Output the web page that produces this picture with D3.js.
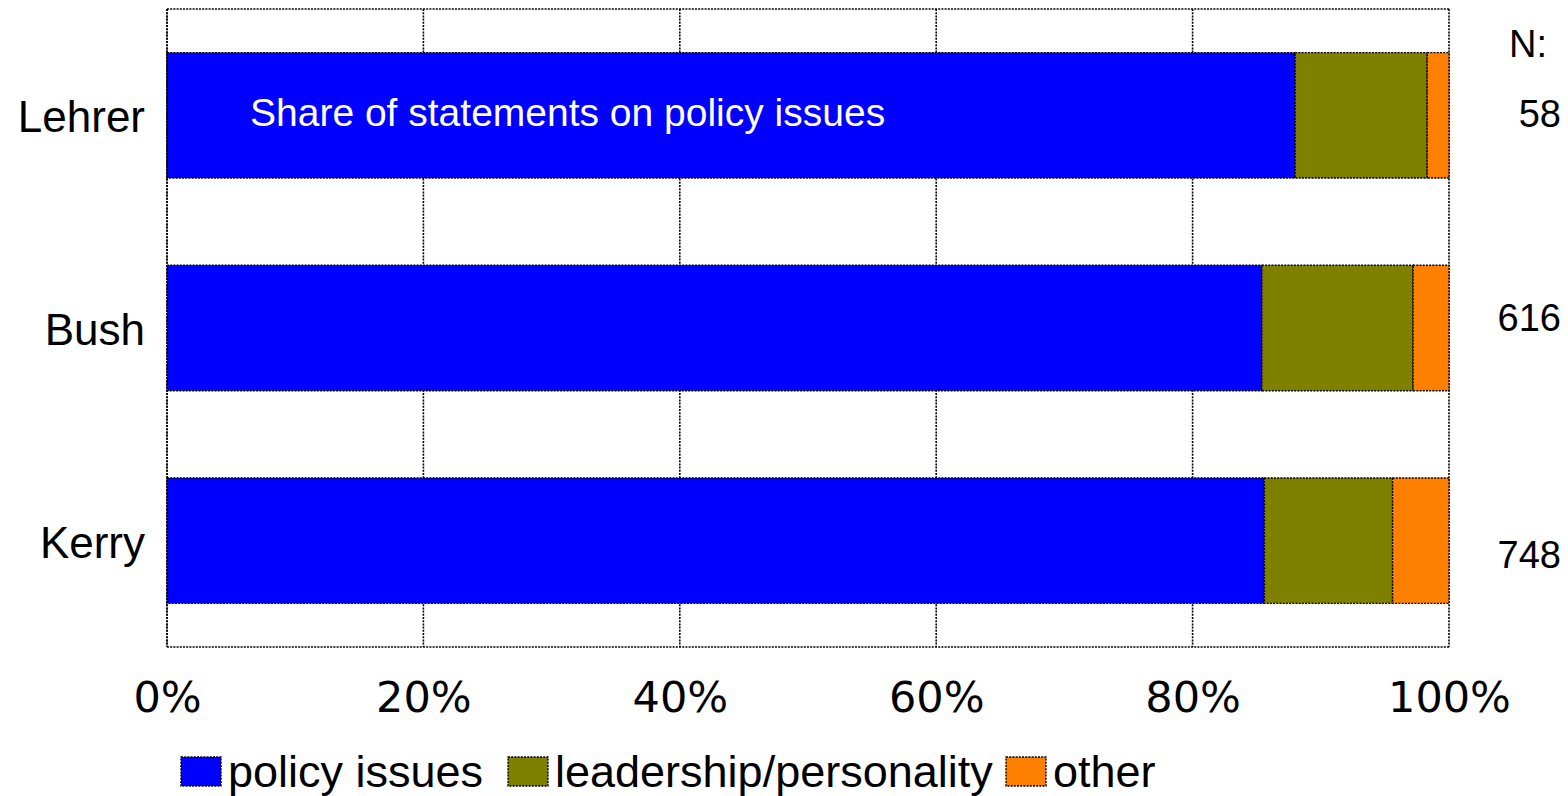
<!DOCTYPE html>
<html>
<head>
<meta charset="utf-8">
<script src="https://cdn.jsdelivr.net/npm/d3@7"></script>
<style>
  html, body { margin: 0; padding: 0; background: #fff; }
  svg { display: block; }
</style>
</head>
<body>
<svg id="chart" width="1568" height="796"></svg>
<script>
// ---- data ----
const categories = ["Lehrer", "Bush", "Kerry"];
const seriesNames = ["policy issues", "leadership/personality", "other"];
const policyIssues = [88.0, 85.4, 85.6];
const leadershipPersonality = [10.3, 11.8, 10.0];
const other = [1.7, 2.8, 4.4];
const nValues = ["58", "616", "748"];
const tickValues = [0, 20, 40, 60, 80, 100];
const tickLabels = ["0%", "20%", "40%", "60%", "80%", "100%"];
const annotationText = "Share of statements on policy issues";
const seriesColors = ["#0000FF", "#808000", "#FF8000"];

(function () {
// ---- build table ----
const rows = categories.map((c, i) => ({
  category: c,
  "policy issues": policyIssues[i],
  "leadership/personality": leadershipPersonality[i],
  "other": other[i]
}));
const stacked = d3.stack().keys(seriesNames)(rows);

const svg = d3.select("#chart");
const pLeft = 167, pRight = 1449, pTop = 9, pBottom = 647;

const x = d3.scaleLinear().domain([0, 100]).range([pLeft, pRight]);
const y = d3.scaleBand().domain(categories).range([pTop, pBottom])
  .paddingInner(0.41).paddingOuter(0.205);
const color = d3.scaleOrdinal().domain(seriesNames).range(seriesColors);

const dotted = "2,1.2";

// plot border + grid
const grid = svg.append("g");
grid.selectAll("line.v").data(tickValues).join("line")
  .attr("x1", d => x(d)).attr("x2", d => x(d))
  .attr("y1", pTop).attr("y2", pBottom)
  .attr("stroke", "#000").attr("stroke-width", 1.6)
  .attr("stroke-dasharray", dotted);
grid.selectAll("line.h").data([pTop, pBottom]).join("line")
  .attr("x1", pLeft).attr("x2", pRight)
  .attr("y1", d => d).attr("y2", d => d)
  .attr("stroke", "#000").attr("stroke-width", 1.6)
  .attr("stroke-dasharray", dotted);

// bars
svg.append("g").selectAll("g").data(stacked).join("g")
  .attr("fill", d => color(d.key))
  .selectAll("rect").data(d => d).join("rect")
  .attr("x", d => x(d[0]))
  .attr("width", d => x(d[1]) - x(d[0]))
  .attr("y", d => y(d.data.category))
  .attr("height", y.bandwidth())
  .attr("stroke", "#000").attr("stroke-width", 1.4)
  .attr("stroke-dasharray", dotted);

// left axis line
svg.append("line").attr("x1", pLeft).attr("x2", pLeft).attr("y1", pTop).attr("y2", pBottom)
  .attr("stroke", "#000").attr("stroke-width", 1.6).attr("stroke-dasharray", dotted);

// category labels
svg.append("g").selectAll("text").data(categories).join("text")
  .attr("x", 145)
  .attr("y", d => y(d) + y.bandwidth() / 2 + 17)
  .attr("text-anchor", "end")
  .attr("font-family", "Liberation Sans, Arial, sans-serif")
  .attr("font-size", 44)
  .attr("fill", "#000")
  .text(d => d);

// x tick labels
const xAxis = d3.axisBottom(x).tickValues(tickValues)
  .tickFormat((d, i) => tickLabels[i]).tickSize(0).tickPadding(0);
const ax = svg.append("g").attr("transform", `translate(0, ${pBottom})`).call(xAxis);
ax.select(".domain").remove();
ax.selectAll("text")
  .attr("y", 65).attr("dy", null)
  .attr("font-family", "DejaVu Sans, Verdana, sans-serif")
  .attr("font-size", 43)
  .attr("fill", "#000");

// annotation inside first bar
svg.append("text")
  .attr("x", x(0) + 83)
  .attr("y", y(categories[0]) + y.bandwidth() / 2 + 11)
  .attr("font-family", "Liberation Sans, Arial, sans-serif")
  .attr("font-size", 39)
  .attr("fill", "#fff")
  .text(annotationText);

// N labels
svg.append("text")
  .attr("x", 1547).attr("y", 57)
  .attr("text-anchor", "end")
  .attr("font-family", "Liberation Sans, Arial, sans-serif")
  .attr("font-size", 38).attr("fill", "#000")
  .text("N:");
const nOffsets = [12, 3, 27];
svg.append("g").selectAll("text").data(nValues).join("text")
  .attr("x", 1561)
  .attr("y", (d, i) => y(categories[i]) + y.bandwidth() / 2 + nOffsets[i])
  .attr("text-anchor", "end")
  .attr("font-family", "Liberation Sans, Arial, sans-serif")
  .attr("font-size", 38).attr("fill", "#000")
  .text(d => d);

// legend
const legendX = [181, 508, 1006];
const lg = svg.append("g").selectAll("g").data(seriesNames).join("g")
  .attr("transform", (d, i) => `translate(${legendX[i]}, 757)`);
lg.append("rect")
  .attr("width", 40).attr("height", 29)
  .attr("fill", d => color(d))
  .attr("stroke", "#000").attr("stroke-width", 1.4)
  .attr("stroke-dasharray", dotted);
lg.append("text")
  .attr("x", 47).attr("y", 30)
  .attr("font-family", "Liberation Sans, Arial, sans-serif")
  .attr("font-size", 45).attr("fill", "#000")
  .text(d => d);
})();
</script>
</body>
</html>
